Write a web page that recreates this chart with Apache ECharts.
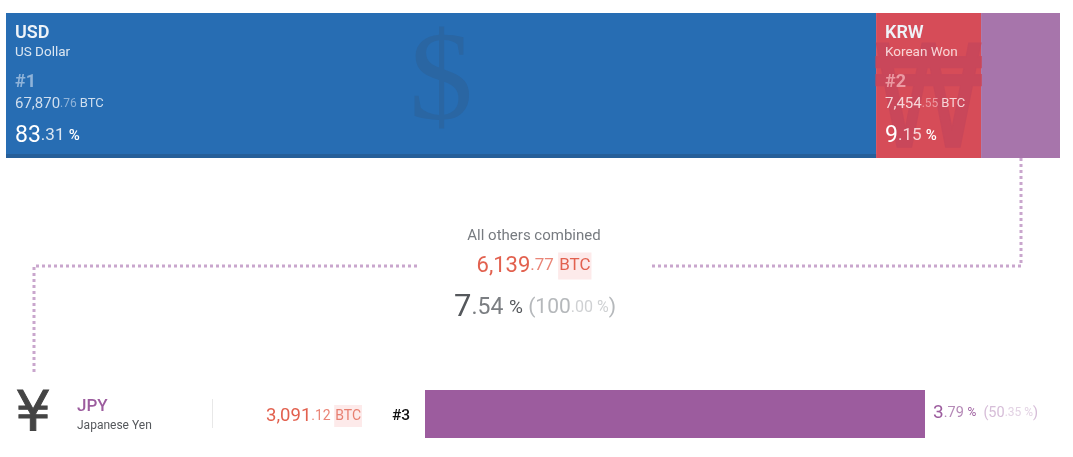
<!DOCTYPE html>
<html>
<head>
    <meta charset="utf-8">
    <title>Currency volume</title>
    <script src="https://cdn.jsdelivr.net/npm/echarts@6/dist/echarts.min.js"></script>
    <style>
        html, body { margin: 0; padding: 0; background: #fff; }
    </style>
</head>
<body>
<div id="chart" style="width:1073px;height:457px"></div>
<script>
// Printed figures
const codes = ['USD', 'KRW'];
const names = ['US Dollar', 'Korean Won'];
const ranks = ['#1', '#2'];
const btc = ['67,870.76', '7,454.55'];
const pct = ['83.31', '9.15'];
const glyphs = ['$', '₩'];

// Top strip, shares as drawn in the picture
const stripLabels = ['USD', 'KRW', 'Others'];
const stripShare = [82.55, 9.96, 7.49];

const othersBtc = '6,139.77';
const othersPct = '7.54';
const othersTotalPct = '100.00';

const jpyBtc = 3091.12;
const jpyPct = '3.79';
const jpyOfOthers = '50.35';

const font = 'Roboto';
var chart = echarts.init(document.getElementById('chart'), null, { renderer: 'canvas' });

function parts(s) { return s.split('.'); }

function text(x, y, rich, str, align) {
    return {
        type: 'text', x: x, y: y, silent: true, z: 20,
        style: { rich: rich, text: str, align: align || 'left', verticalAlign: 'middle', fontFamily: font }
    };
}

function stripText(i, x, dim, faint, btcCol) {
    var b = parts(btc[i]), p = parts(pct[i]);
    return [
        text(x, 33, { a: { fontSize: 18, fontWeight: 600, fontFamily: font, fill: '#eef3f8' } }, '{a|' + codes[i] + '}'),
        text(x, 53, { a: { fontSize: 13.5, fontFamily: font, fill: dim } }, '{a|' + names[i] + '}'),
        text(x, 82, { a: { fontSize: 18, fontWeight: 700, fontFamily: font, fill: faint } }, '{a|' + ranks[i] + '}'),
        text(x, 104, {
            a: { fontSize: 15, fontFamily: font, fill: btcCol },
            b: { fontSize: 12, fontFamily: font, fill: faint },
            c: { fontSize: 13, fontFamily: font, fill: btcCol }
        }, '{a|' + b[0] + '}{b|.' + b[1] + ' }{c|BTC}'),
        text(x, 136, {
            a: { fontSize: 23, fontFamily: font, fill: '#ffffff' },
            b: { fontSize: 17, fontFamily: font, fill: dim },
            c: { fontSize: 15, fontWeight: 500, fontFamily: font, fill: '#ffffff' }
        }, '{a|' + p[0] + '}{b|.' + p[1] + ' }{c|%}')
    ];
}

var ob = parts(othersBtc), op = parts(othersPct), ot = parts(othersTotalPct);
var jb = parts(jpyBtc.toLocaleString('en-US', { minimumFractionDigits: 2 }));
var jp = parts(jpyPct), jo = parts(jpyOfOthers);

var graphics = [
    // big currency signs behind the labels
    { type: 'text', x: 441, y: 85, silent: true, z: 5, style: { text: glyphs[0], align: 'center', verticalAlign: 'middle', fontFamily: 'Liberation Serif', fontSize: 128, fill: '#2a66a3' } },
    { type: 'text', x: 928.5, y: 111, scaleY: 1.25, silent: true, z: 5, style: { text: glyphs[1], align: 'center', verticalAlign: 'middle', fontFamily: 'DejaVu Sans', fontSize: 112, fill: '#c9475a', stroke: '#c9475a', lineWidth: 2 } },
    { type: 'text', x: 33, y: 415, silent: true, style: { text: '¥', align: 'center', verticalAlign: 'middle', fontFamily: 'DejaVu Sans', fontSize: 56, fill: '#444444', stroke: '#444444', lineWidth: 1 } },

    // dotted leaders
    { type: 'polyline', silent: true, shape: { points: [[1021, 158], [1021, 266], [650, 266]] }, style: { fill: null, stroke: '#c9a6cd', lineWidth: 3, lineDash: [3, 3] } },
    { type: 'polyline', silent: true, shape: { points: [[417, 266], [34, 266], [34, 375]] }, style: { fill: null, stroke: '#c9a6cd', lineWidth: 3, lineDash: [3, 3] } },
    { type: 'line', silent: true, shape: { x1: 212.5, y1: 399, x2: 212.5, y2: 428 }, style: { stroke: '#e8e8e8', lineWidth: 1 } },

    text(534, 236, { a: { fontSize: 15, fontFamily: font, fill: '#777b80' } }, '{a|All others combined}', 'center'),
    text(534, 266, {
        a: { fontSize: 22, fontFamily: font, fill: '#e2614f' },
        b: { fontSize: 17, fontFamily: font, fill: '#ea8577' },
        c: { fontSize: 17, fontFamily: font, fill: '#e2614f', backgroundColor: '#fdeaea', padding: [5, 1, 5, 1] }
    }, '{a|' + ob[0] + '}{b|.' + ob[1] + ' }{c|BTC}', 'center'),
    text(535, 308, {
        a: { fontSize: 31, fontFamily: font, fill: '#55585c' },
        b: { fontSize: 23, fontFamily: font, fill: '#7b7e82' },
        c: { fontSize: 19, fontFamily: font, fill: '#55585c' },
        d: { fontSize: 21, fontFamily: font, fill: '#b5b8bb' },
        e: { fontSize: 16, fontFamily: font, fill: '#cfd1d3' }
    }, '{a|' + op[0] + '}{b|.' + op[1] + ' }{c|%}{d| (' + ot[0] + '}{e|.' + ot[1] + ' %}{d|)}', 'center'),

    text(77, 407, { a: { fontSize: 17, fontWeight: 500, fontFamily: font, fill: '#9c5c9e' } }, '{a|JPY}'),
    text(77, 426, { a: { fontSize: 12, fontFamily: font, fill: '#55585c' } }, '{a|Japanese Yen}'),
    text(362, 416, {
        a: { fontSize: 18.5, fontFamily: font, fill: '#e2614f' },
        b: { fontSize: 14, fontFamily: font, fill: '#ea8577' },
        c: { fontSize: 14, fontFamily: font, fill: '#e77f70', backgroundColor: '#fdeaea', padding: [4, 1, 4, 1] }
    }, '{a|' + jb[0] + '}{b|.' + jb[1] + ' }{c|BTC}', 'right'),
    text(392, 416, { a: { fontSize: 15.5, fontWeight: 500, fontFamily: font, fill: '#111111' } }, '{a|#3}'),
    text(933, 413, {
        a: { fontSize: 19, fontFamily: font, fill: '#9c5c9e' },
        b: { fontSize: 14.5, fontFamily: font, fill: '#b58ab7' },
        c: { fontSize: 12, fontFamily: font, fill: '#9c5c9e' },
        d: { fontSize: 14.5, fontFamily: font, fill: '#d6bdd8' },
        e: { fontSize: 12, fontFamily: font, fill: '#e3d3e4' }
    }, '{a|' + jp[0] + '}{b|.' + jp[1] + ' }{c|%}{d|  (' + jo[0] + '}{e|.' + jo[1] + ' %}{d|)}')
];
graphics = graphics.concat(
    stripText(0, 15, '#dbe6f1', '#8fb3d9', '#cfdeee'),
    stripText(1, 885, '#f6d5d8', '#eb9aa2', '#f6d5d8')
);

var stripColors = ['#276db3', '#d64c58', '#a775ab'];

var option = {
    animation: false,
    backgroundColor: '#ffffff',
    grid: [
        { left: 6, top: 13, width: 1054, height: 145 },
        { left: 6, top: 154, width: 1054, height: 4 },
        { left: 425, top: 390, width: 500, height: 48 }
    ],
    xAxis: [
        { gridIndex: 0, type: 'value', min: 0, max: 100, show: false },
        { gridIndex: 1, type: 'value', min: 0, max: 100, show: false },
        { gridIndex: 2, type: 'value', min: 0, max: jpyBtc, show: false }
    ],
    yAxis: [
        { gridIndex: 0, type: 'category', data: ['share'], show: false },
        { gridIndex: 1, type: 'category', data: ['share'], show: false },
        { gridIndex: 2, type: 'category', data: ['JPY'], show: false }
    ],
    series: stripLabels.map(function (name, i) {
        return {
            name: name, type: 'bar', stack: 'strip', xAxisIndex: 0, yAxisIndex: 0,
            barWidth: '100%', silent: true, z: 2,
            itemStyle: { color: stripColors[i] },
            data: [stripShare[i]]
        };
    }).concat([
        // darker foot under the USD block
        { name: 'USD foot', type: 'bar', xAxisIndex: 1, yAxisIndex: 1, barWidth: '100%', silent: true, z: 3,
          itemStyle: { color: '#265f99' }, data: [stripShare[0]] },
        { name: 'JPY', type: 'bar', xAxisIndex: 2, yAxisIndex: 2, barWidth: '100%', silent: true,
          itemStyle: { color: '#9c5c9e' }, data: [jpyBtc] }
    ]),
    graphic: { elements: graphics }
};

chart.setOption(option);
</script>
</body>
</html>
